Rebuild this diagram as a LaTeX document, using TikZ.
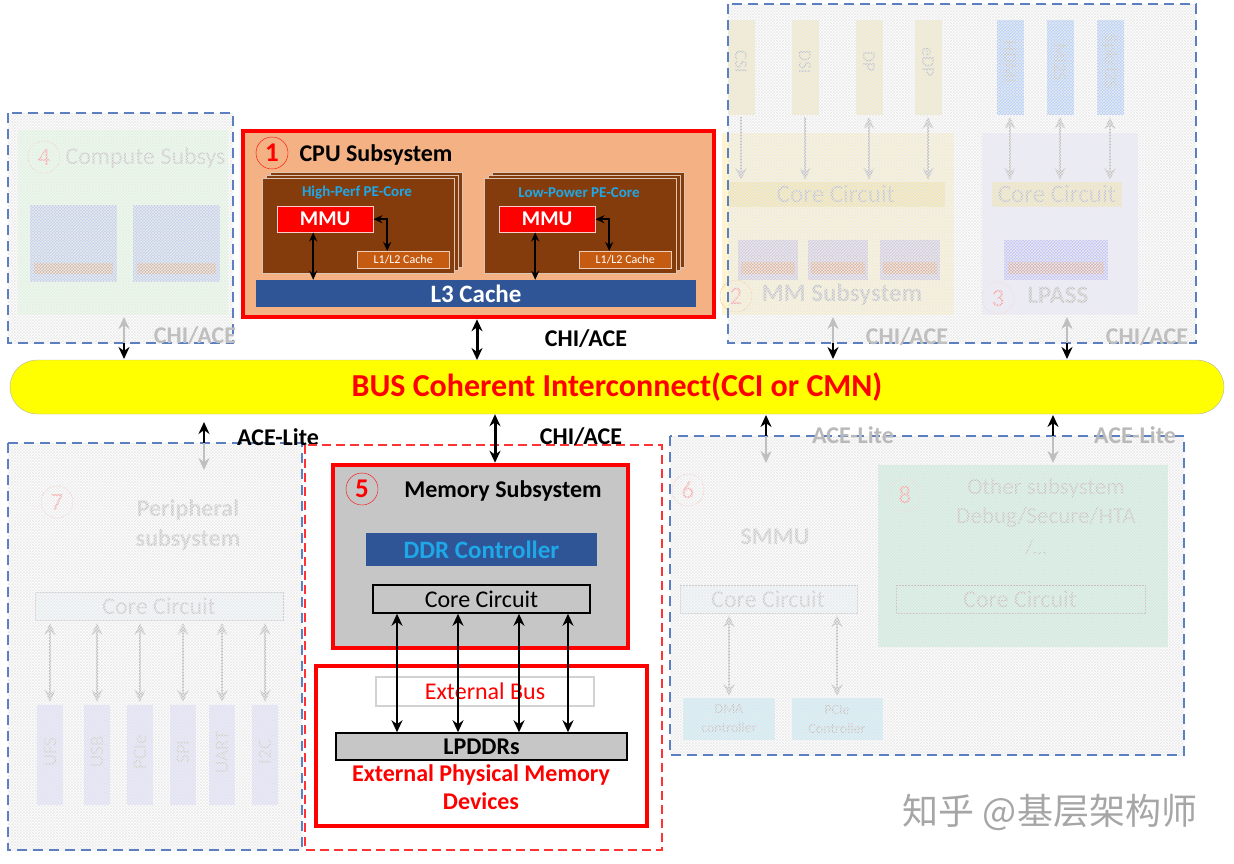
\documentclass[tikz,border=0pt]{standalone}
\usepackage{fontspec}
\setmainfont{Carlito}
\newfontfamily\cjk{Noto Sans CJK SC}
\usetikzlibrary{arrows.meta,patterns}
\definecolor{cpuo}{HTML}{F4B183}
\definecolor{brn}{HTML}{843C0C}
\definecolor{ora}{HTML}{C55A11}
\definecolor{l3b}{HTML}{2F5597}
\definecolor{cyt}{HTML}{1FA8E8}
\definecolor{busy}{HTML}{FFFF00}
\definecolor{dblue}{HTML}{5B7FC0}
\tikzset{
 ar/.style={{Stealth[length=12pt,width=11pt]}-{Stealth[length=12pt,width=11pt]},line width=2.6pt},
 sar/.style={-{Stealth[length=12pt,width=11pt]},line width=2.6pt},
 gar/.style={ar,draw=gray!50},
 box/.style={draw,inner sep=0pt,align=center},
 lab/.style={font=\bfseries\fontsize{24}{27}\selectfont},
 flab/.style={font=\bfseries\fontsize{24}{27}\selectfont,text=gray!55},
 dbx/.style={draw=dblue,dashed,dash pattern=on 10pt off 6pt,line width=1.4pt},
 hatch/.style={pattern={crosshatch},pattern color=gray!16},
 num/.style={circle,draw=red!60,text=red!60,inner sep=1pt,minimum size=32pt,font=\fontsize{25}{27}\selectfont},
}
\begin{document}
\begin{tikzpicture}[x=1pt,y=-1pt]
\useasboundingbox (0,0) rectangle (1234,863);
\fill[white] (0,0) rectangle (1234,863);
% ---------- faded top-left compute
\begin{scope}[opacity=0.3]
\fill[green!30!white] (18,130) rectangle (228,315);
\fill[blue!60] (30,205) rectangle (117,282); \fill[blue!60] (133,205) rectangle (220,282);
\fill[orange] (34,263) rectangle (113,274); \fill[orange] (137,263) rectangle (216,274);
\end{scope}
\node[num,draw=red!25,text=red!35] (n4) at (44,157) {4};
\node[font=\fontsize{24}{26}\selectfont,anchor=west,text=gray!45] (t4) at (62,158) {Compute Subsys};
\fill[hatch] (8,113) rectangle (233,343);
\draw[dbx] (8,113) rectangle (233,343);
% ---------- faded MM / LPASS
\begin{scope}[opacity=0.3]
\fill[yellow!60!orange!60] (722,133) rectangle (954,315);
\fill[blue!25] (982,133) rectangle (1138,315);
\foreach \x in {728,792,856,915}{\fill[yellow!50!brown] (\x,20) rectangle ++(27,95);}
\foreach \x in {997,1047,1097}{\fill[blue!60!cyan] (\x,20) rectangle ++(27,95);}
\fill[yellow!50!brown] (728,182) rectangle (945,207);
\fill[yellow!70!orange] (992,182) rectangle (1122,207);
\foreach \x in {738,808,880}{\fill[blue!60] (\x,240) rectangle ++(60,40); \fill[orange] (\x+3,262) rectangle ++(54,12);}
\fill[blue!60] (1004,240) rectangle (1108,280); \fill[orange] (1008,262) rectangle (1104,274);
\end{scope}
\begin{scope}[text=gray!50]
\foreach \x/\t in {741/CSI,805/DSI,869/DP,928/eDP,1010/HDMI,1060/MI2S,1110/SpkrI2S}
  \node[rotate=-90,font=\fontsize{18}{19}\selectfont] at (\x,62) {\t};
\node[font=\fontsize{25}{27}\selectfont] (cc2) at (836,194) {Core Circuit};
\node[font=\fontsize{25}{27}\selectfont] (cc3) at (1057,194) {Core Circuit};
\node[font=\bfseries\fontsize{25}{27}\selectfont] at (842,295) {MM Subsystem};
\node[font=\bfseries\fontsize{25}{27}\selectfont] at (1058,295) {LPASS};
\end{scope}
\node[num,draw=orange!50,text=red!35] at (736,296) {2};
\node[num,draw=red!20,text=red!40] at (998,298) {3};
\foreach \x in {741,805}{\draw[sar,draw=gray!50] (\x,117) -- (\x,180);}
\foreach \x in {869,928,1010,1060,1110}{\draw[gar] (\x,117) -- (\x,180);}
\fill[hatch] (728,4) rectangle (1196,343);
\draw[dbx] (728,4) rectangle (1196,343);
% ---------- CPU subsystem
\node[box,draw=red,line width=4.5pt,fill=cpuo,minimum width=471,minimum height=186] (cpu) at (478.5,224) {};
\node[num,draw=red,text=red,font=\bfseries\fontsize{27}{29}\selectfont] (n1) at (272,153) {1};
\node[font=\bfseries\fontsize{24}{27}\selectfont,anchor=west] at (296,155) {CPU Subsystem};
\foreach \X/\N/\T in {262/a/High-Perf PE-Core,484/b/Low-Power PE-Core}{
 \fill[brn,draw=white!70!brn] (\X+8,172) rectangle ++(192,95);
 \fill[brn,draw=white!70!brn] (\X+4,175) rectangle ++(192,95);
 \node[box,fill=brn,draw=white!70!brn,minimum width=192,minimum height=95,anchor=north west] (core\N) at (\X,178) {};
 \node[font=\bfseries\fontsize{15}{17}\selectfont,text=cyt] at (\X+95,193) {\T};
 \node[box,fill=red,draw=white!80!red,text=white,font=\bfseries\fontsize{21}{23}\selectfont,minimum width=96,minimum height=26,anchor=north west] (mmu\N) at (\X+15,206) {MMU};
 \node[box,fill=ora,draw=white!70!ora,text=white,font=\fontsize{12}{13}\selectfont,minimum width=92,minimum height=17,anchor=north west] (l12\N) at (\X+95,251) {L1/L2 Cache};
}
\node[box,draw=none,fill=l3b,text=white,font=\bfseries\fontsize{25}{27}\selectfont,minimum width=440,minimum height=27] (l3) at (476,293.5) {L3 Cache};
\foreach \N in {a,b}{
 \draw[{Stealth[length=9pt,width=8pt]}-{Stealth[length=9pt,width=8pt]},line width=1.5pt] ([xshift=-12pt]mmu\N.south) -- ([xshift=-12pt]mmu\N.south |- l3.north);
 \draw[{Stealth[length=9pt,width=8pt]}-{Stealth[length=9pt,width=8pt]},line width=1.5pt] (mmu\N.east) -| ([xshift=-16pt]l12\N.north);
}
% ---------- bus
\node[box,draw=gray!60,fill=busy,rounded corners=27pt,minimum width=1214,minimum height=54,text=red,font=\bfseries\fontsize{32}{34}\selectfont] (bus) at (617,387) {BUS Coherent Interconnect(CCI or CMN)};
\draw[ar,line width=3pt] (cpu.south -| 477,0) -- (477,360);
\node[lab] at (586,339) {CHI/ACE};
% compute/mm/lpass bus arrows
\foreach \x in {124,833,1067}{
 \draw[sar] (\x,343) -- (\x,359);
 \draw[sar,draw=gray!50] (\x,343) -- (\x,317);}
\node[flab,text=gray!50] at (195,336) {CHI/ACE};
\node[flab,text=gray!50] at (907,337) {CHI/ACE};
\node[flab,text=gray!50] at (1147,337) {CHI/ACE};
% ---------- peripheral
\begin{scope}[opacity=0.3]
\foreach \x in {37,84,127,170,209,252}{\fill[blue!40] (\x,705) rectangle ++(26,100);}
\fill[cyan!15] (35,592) rectangle (283,620);
\end{scope}
\draw[gray!40,line width=1pt] (35,592) rectangle (283,620);
\node[font=\fontsize{24}{26}\selectfont,text=gray!45] (cc7) at (159,606) {Core Circuit};
\foreach \x/\t in {50/UFS,97/USB,140/PCIe,183/SPI,222/UART,265/I2C}{
 \node[rotate=90,font=\fontsize{19}{20}\selectfont,text=gray!40] at (\x,752) {\t};
 \draw[gar] (\x,623) -- (\x,702);}
\node[num,draw=red!25,text=red!35] at (57,502) {7};
\node[font=\bfseries\fontsize{24}{30}\selectfont,text=gray!45,align=center] at (188,525) {Peripheral\\subsystem};
\fill[hatch] (8,443) rectangle (302,850);
\draw[dbx] (8,443) rectangle (302,850);
\draw[sar] (204,443) -- (204,422);
\draw[sar,draw=gray!50] (204,443) -- (204,470);
\node[lab] at (278,437) {ACE-Lite};
% ---------- right bottom
\begin{scope}[opacity=0.35]
\fill[green!50!cyan!70!black!60] (878,465) rectangle (1168,647);
\fill[cyan!15] (680,585) rectangle (857,613);
\fill[cyan!60] (683,698) rectangle (775,740);
\fill[cyan!60] (792,698) rectangle (883,740);
\end{scope}
\draw[gray!40,line width=1pt] (680,585) rectangle (857,613);
\draw[gray!55,line width=1pt] (896,585) rectangle (1145,613);
\node[num,draw=red!25,text=red!35] at (688,490) {6};
\node[num,draw=red!20,text=red!40] at (905,495) {8};
\node[font=\bfseries\fontsize{24}{26}\selectfont,text=gray!45] at (775,537) {SMMU};
\node[font=\fontsize{24}{26}\selectfont,text=gray!45] (cc6) at (768,599) {Core Circuit};
\node[font=\fontsize{24}{26}\selectfont,text=gray!50] (cc8) at (1020,599) {Core Circuit};
\node[font=\fontsize{23}{29}\selectfont,text=gray!50,align=center] at (1046,503) {Other subsystem\\Debug/Secure/HTA};
\node[font=\fontsize{20}{22}\selectfont,text=gray!50] at (1036,548) {/…};
\node[font=\fontsize{14}{19}\selectfont,text=gray!55,align=center] at (729,719) {DMA\\controller};
\node[font=\fontsize{14}{19}\selectfont,text=gray!55,align=center] at (837,719) {PCIe\\Controller};
\draw[gar] (729,615) -- (729,696);
\draw[gar] (837,615) -- (837,696);
\fill[hatch] (670,436) rectangle (1184,755);
\draw[dbx] (670,436) rectangle (1184,755);
\foreach \x in {766,1053}{
 \draw[sar] (\x,436) -- (\x,415);
 \draw[sar,draw=gray!50] (\x,436) -- (\x,463);}
\node[flab,text=gray!55] at (853,435) {ACE-Lite};
\node[flab,text=gray!55] at (1135,435) {ACE-Lite};
% ---------- memory
\draw[red!80,dashed,dash pattern=on 9pt off 5pt,line width=1.3pt] (305,445) rectangle (662,850);
\node[box,draw=red,line width=4.5pt,fill=gray!45,minimum width=295,minimum height=183] (mem) at (480.5,556.5) {};
\node[num,draw=red,text=red,font=\bfseries\fontsize{27}{29}\selectfont] at (362,489) {5};
\node[lab] at (503,491) {Memory Subsystem};
\node[box,draw=none,fill=l3b,text=cyt,font=\bfseries\fontsize{25}{27}\selectfont,minimum width=231,minimum height=33] (ddr) at (481.5,549.5) {DDR Controller};
\node[box,fill=gray!45,line width=1.5pt,font=\fontsize{24}{26}\selectfont,minimum width=217,minimum height=28] (ccm) at (481.5,599) {Core Circuit};
\node[box,draw=red,line width=4.5pt,fill=white,minimum width=331,minimum height=160] (ext) at (481.5,746) {};
\node[box,draw=gray!35,line width=2pt,text=red,font=\fontsize{24}{26}\selectfont,minimum width=218,minimum height=29] (eb) at (485,691.5) {External Bus};
\node[box,fill=gray!45,line width=1.5pt,font=\bfseries\fontsize{24}{26}\selectfont,minimum width=291,minimum height=27] (lp) at (481.5,746.5) {LPDDRs};
\node[font=\bfseries\fontsize{24}{28}\selectfont,text=red,align=center] at (481,787) {External Physical Memory\\Devices};
\foreach \x in {397,458,519,568}{\draw[ar] (ccm.south -| \x,0) -- (lp.north -| \x,0);}
\draw[ar,line width=3pt] (bus.south -| 495,0) -- (mem.north -| 495,0);
\node[lab] at (581,437) {CHI/ACE};
% watermark
\node[font=\cjk\fontsize{36}{38}\selectfont,text=gray!70] (wm) at (1050,812) {知乎 @基层架构师};
\end{tikzpicture}
\end{document}
